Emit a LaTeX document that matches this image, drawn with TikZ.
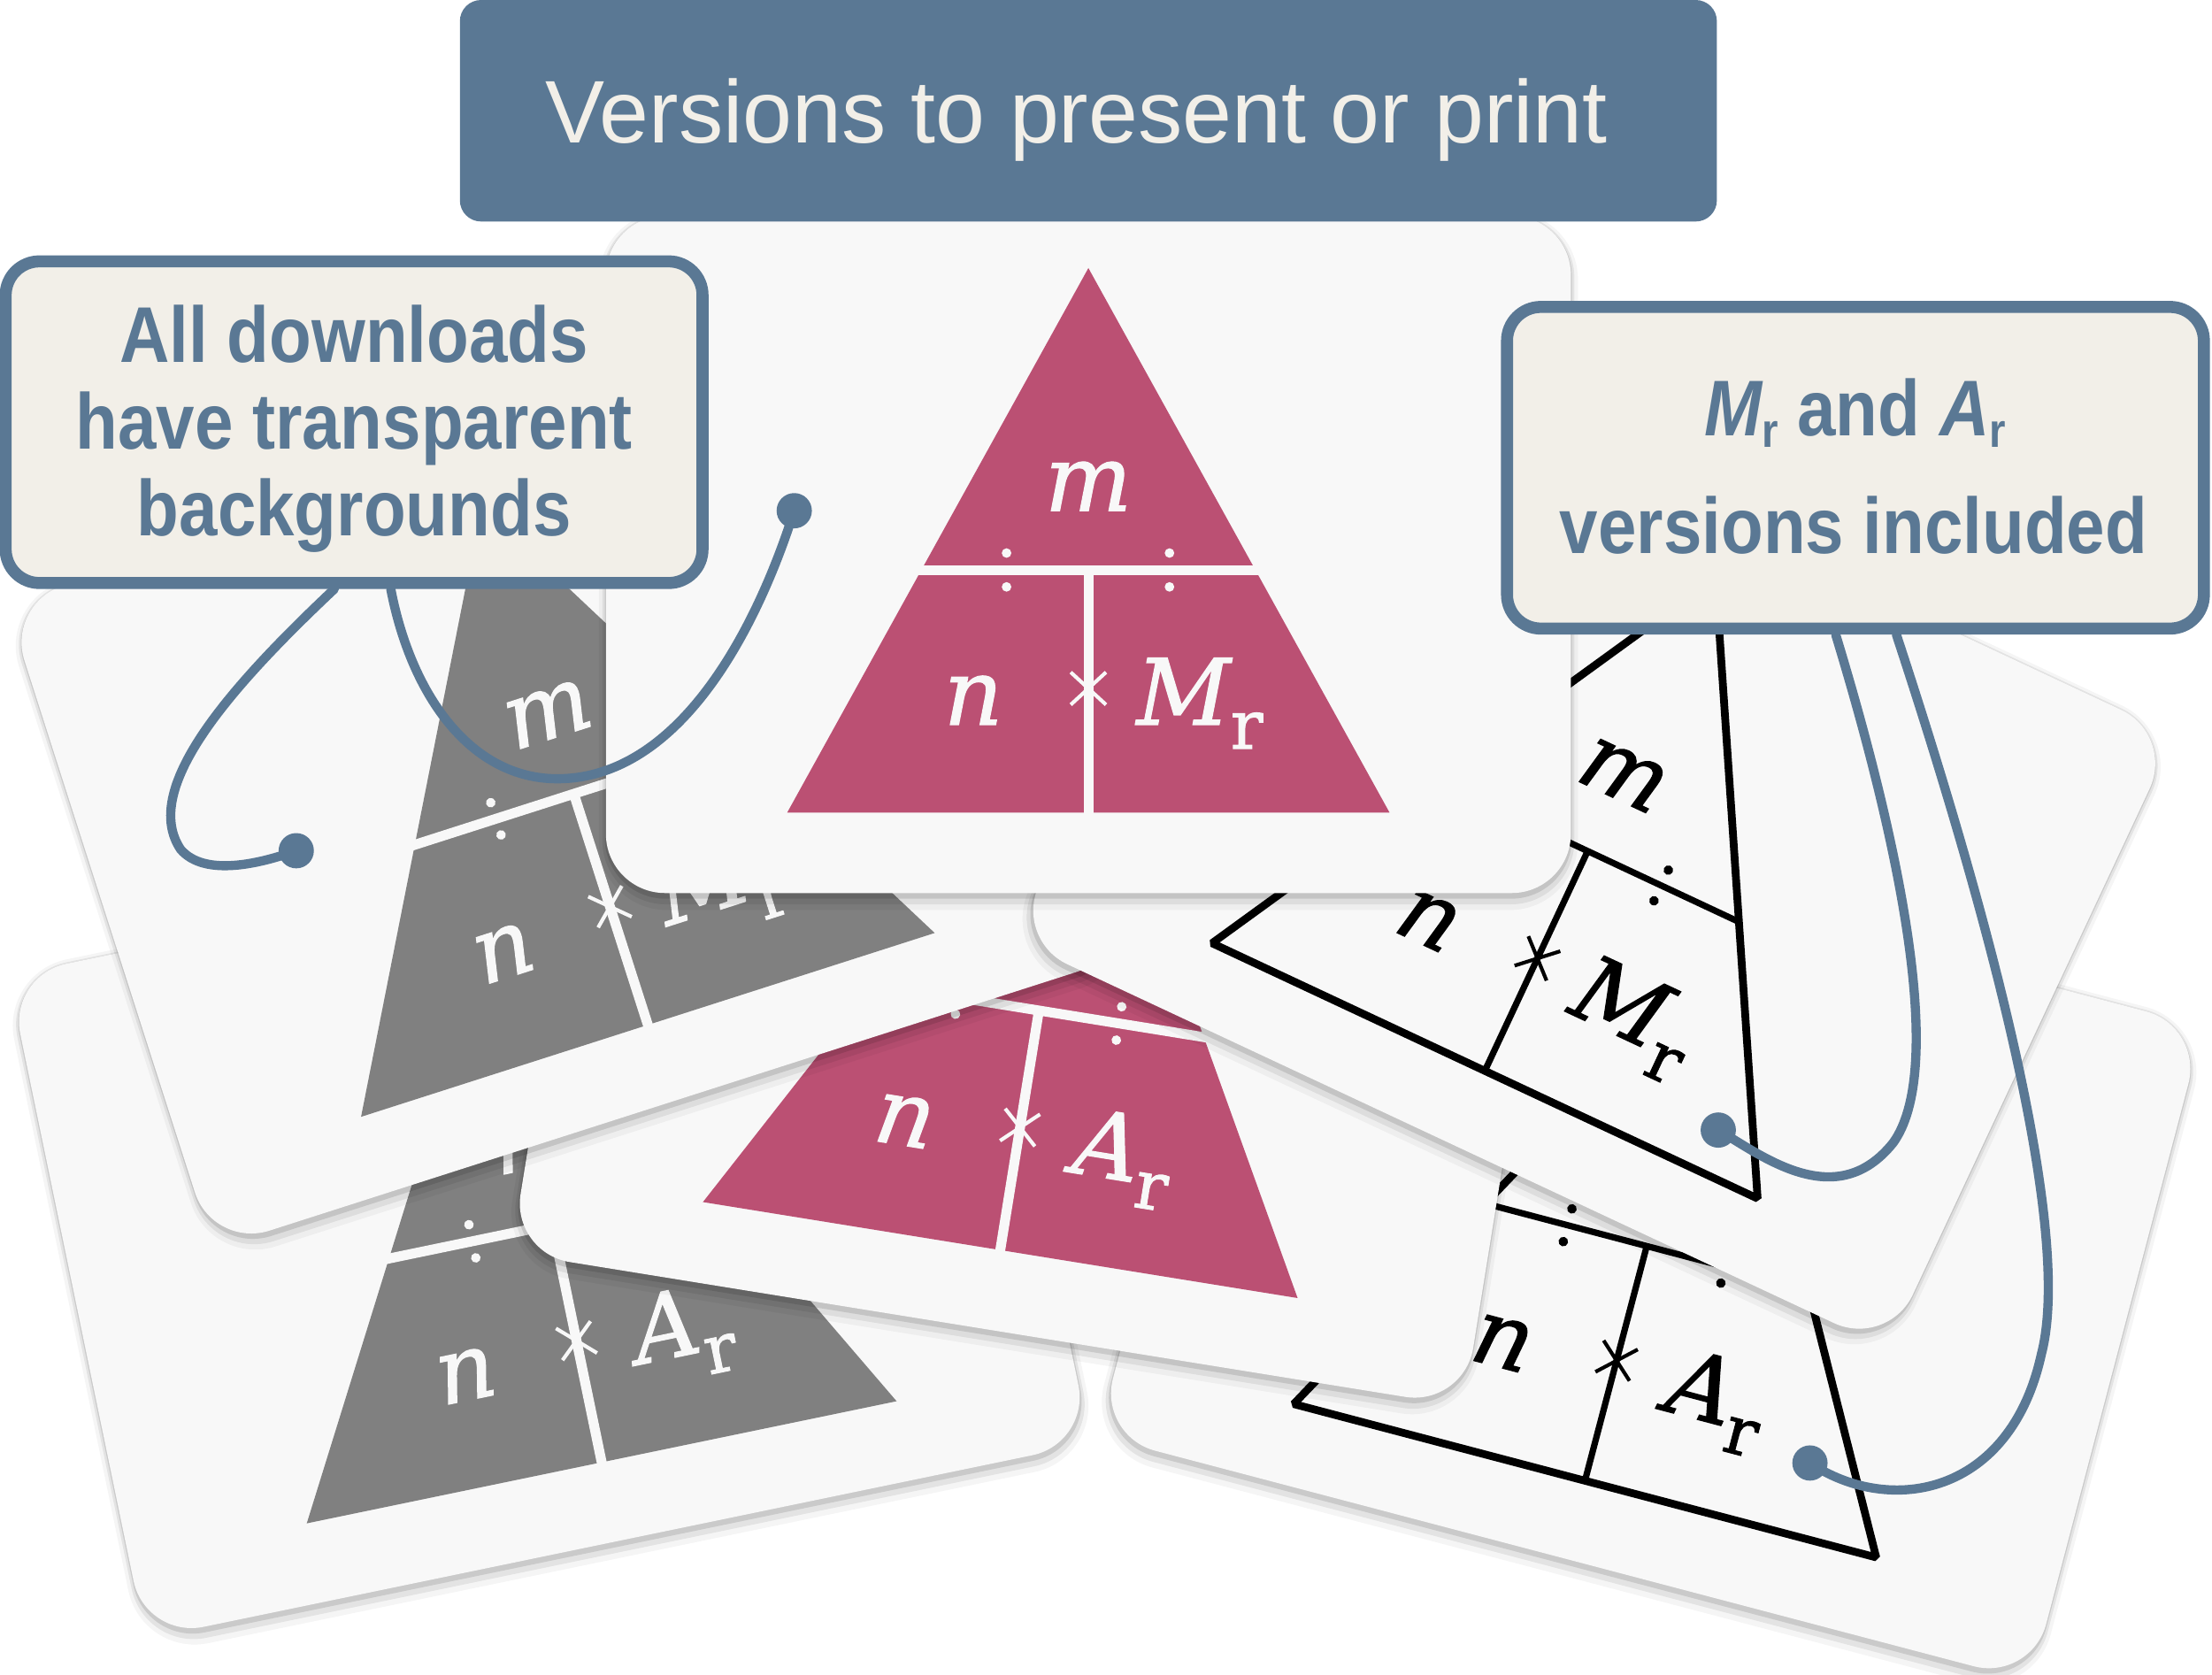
\documentclass[tikz,border=0pt]{standalone}
\usepackage{fontspec}
\setmainfont{Liberation Sans}
\newfontfamily\titlefont{Liberation Sans}
\newfontfamily\callfont[FakeStretch=0.875]{Liberation Sans}
\newfontfamily\trifont[FakeBold=1.2]{DejaVu Serif}
\definecolor{cardfill}{HTML}{F8F8F8}
\definecolor{pinkc}{HTML}{BB5073}
\definecolor{grayc}{HTML}{808080}
\definecolor{bluec}{HTML}{5A7894}
\definecolor{creamc}{HTML}{F2EFE8}
\tikzset{
 trit/.style={font=\trifont\fontsize{65}{65}\selectfont, inner sep=0pt, anchor=base},
 conn/.style={draw=bluec, line width=6.5pt, line cap=round},
 dotn/.style={circle, fill=bluec, inner sep=0pt, minimum size=25pt},
 callout/.style={draw=bluec, fill=creamc, line width=8.5pt, rounded corners=24pt, minimum width=494pt, minimum height=228pt, inner sep=0pt},
 calltext/.style={font=\callfont\bfseries\fontsize{56}{56}\selectfont, text=bluec, anchor=base, inner sep=0pt},
 titlebox/.style={fill=bluec, rounded corners=15pt, minimum width=891pt, minimum height=157pt, inner sep=0pt},
 titletext/.style={font=\titlefont\fontsize{63}{63}\selectfont, text=creamc, anchor=base, inner sep=0pt},
}
% card background with soft shadow: cx, cy, angle
\newcommand\cardbg[3]{%
 \begin{scope}[shift={(#1,#2)},rotate=#3]
  \fill[black,opacity=0.04,rounded corners=48pt] (-347,-243) rectangle (347,252);
  \fill[black,opacity=0.07,rounded corners=45pt] (-344.5,-241) rectangle (344.5,248);
  \fill[black,opacity=0.11,rounded corners=43pt] (-342.8,-240) rectangle (342.8,244);
  \fill[cardfill,rounded corners=42pt] (-342,-240) rectangle (342,240);
 \end{scope}}
% filled triangle: cx, cy, angle, colour, letter, letter x, name prefix
\newcommand\trifilled[7]{%
 \begin{scope}[shift={(#1,#2)},rotate=#3,transform shape]
  \fill[#4] (0,-203) -- (213.5,183) -- (-213.5,183) -- cycle;
  \draw[cardfill,line width=7pt] (-150,11) -- (150,11) (0,11) -- (0,192);
  \fill[cardfill] (-58,-1) circle (3.4pt) (-58,23) circle (3.4pt) (57.5,-1) circle (3.4pt) (57.5,23) circle (3.4pt);
  \draw[cardfill,line width=2.6pt] (-12.5,83.5) -- (12.5,106.5) (-12.5,106.5) -- (12.5,83.5);
  \node[trit,text=cardfill] (#7m) at (0,-31) {\itshape m};
  \node[trit,text=cardfill] (#7n) at (-81.5,120.7) {\itshape n};
  \node[trit,text=cardfill,anchor=base west] (#7r) at (#6,120.7) {{\itshape #5}\raisebox{-17pt}{\fontsize{48}{48}\selectfont r}};
 \end{scope}}
% outlined triangle: cx, cy, angle, letter, letter x, name prefix
\newcommand\trioutline[6]{%
 \begin{scope}[shift={(#1,#2)},rotate=#3,transform shape]
  \draw[black,line width=5.5pt,line join=bevel] (0,-203) -- (213.5,183) -- (-213.5,183) -- cycle;
  \draw[black,line width=4.5pt] (-118.4,11) -- (118.4,11) (0,11) -- (0,183);
  \fill[black] (-58,-1) circle (3.4pt) (-58,23) circle (3.4pt) (57.5,-1) circle (3.4pt) (57.5,23) circle (3.4pt);
  \draw[black,line width=2.6pt] (-12.5,83.5) -- (12.5,106.5) (-12.5,106.5) -- (12.5,83.5);
  \node[trit,text=black] (#6m) at (0,-31) {\itshape m};
  \node[trit,text=black] (#6n) at (-81.5,120.7) {\itshape n};
  \node[trit,text=black,anchor=base west] (#6r) at (#5,120.7) {{\itshape #4}\raisebox{-17pt}{\fontsize{48}{48}\selectfont r}};
 \end{scope}}
\begin{document}
\begin{tikzpicture}[x=1pt,y=-1pt]
\fill[white] (0,0) rectangle (1568,1187);
\useasboundingbox (0,0) rectangle (1568,1187);
% cards, bottom to top
\cardbg{389.4}{857.3}{11.7}
\trifilled{389.4}{857.3}{11.7}{grayc}{A}{40}{ta}
\cardbg{1170.1}{872.6}{-14.75}
\trioutline{1170.1}{872.6}{-14.75}{A}{40}{tb}
\cardbg{738.2}{705.4}{-9.17}
\trifilled{738.2}{705.4}{-9.17}{pinkc}{A}{40}{tc}
\cardbg{403.4}{552.2}{17.77}
\trifilled{403.4}{552.2}{17.77}{grayc}{M}{34}{td}
\cardbg{1130.1}{593.3}{-25.08}
\trioutline{1130.1}{593.3}{-25.08}{M}{34}{te}
\cardbg{771.5}{393}{0}
\trifilled{771.5}{393}{0}{pinkc}{M}{34}{tf}
% title
\node[titlebox] (title) at (771.5,78.5) {};
\node[titletext] (titletxt) at (763,101) {Versions to present or print};
% callouts
\node[callout] (cl) at (251,299.25) {};
\node[calltext] (cl1) at (251,257) {All downloads};
\node[calltext] (cl2) at (251,318.5) {have transparent};
\node[calltext] (cl3) at (251,380) {backgrounds};
\node[callout] (cr) at (1315.25,331.55) {};
\node[calltext] (cr1) at (1315,309) {{\itshape M}\raisebox{-8pt}{\fontsize{34}{34}\selectfont r} and {\itshape A}\raisebox{-8pt}{\fontsize{34}{34}\selectfont r}};
\node[calltext] (cr2) at (1314,392) {versions included};
% connector ends
\coordinate (s1) at ([xshift=-14pt]cl.south);
\coordinate (s2) at ([xshift=26pt]cl.south);
\coordinate (s3) at ([xshift=-14pt]cr.south);
\coordinate (s4) at ([xshift=29pt]cr.south);
\node[dotn] (d1) at (210,603) {};
\node[dotn] (d2) at (563,362) {};
\node[dotn] (d3) at (1218,801) {};
\node[dotn] (d4) at (1283,1037) {};
\draw[conn] (s1) .. controls (160,490) and (100,560) .. (128,602) .. controls (145,622) and (185,612) .. (d1.center);
\draw[conn] (s2) .. controls (292,495) and (335,552) .. (395,552) .. controls (480,552) and (535,450) .. (d2.center);
\draw[conn] (s3) .. controls (1350,610) and (1378,760) .. (1342,810) .. controls (1302,860) and (1250,820) .. (d3.center);
\draw[conn] (s4) .. controls (1420,680) and (1468,880) .. (1447,960) .. controls (1425,1060) and (1340,1075) .. (d4.center);
\end{tikzpicture}
\end{document}
